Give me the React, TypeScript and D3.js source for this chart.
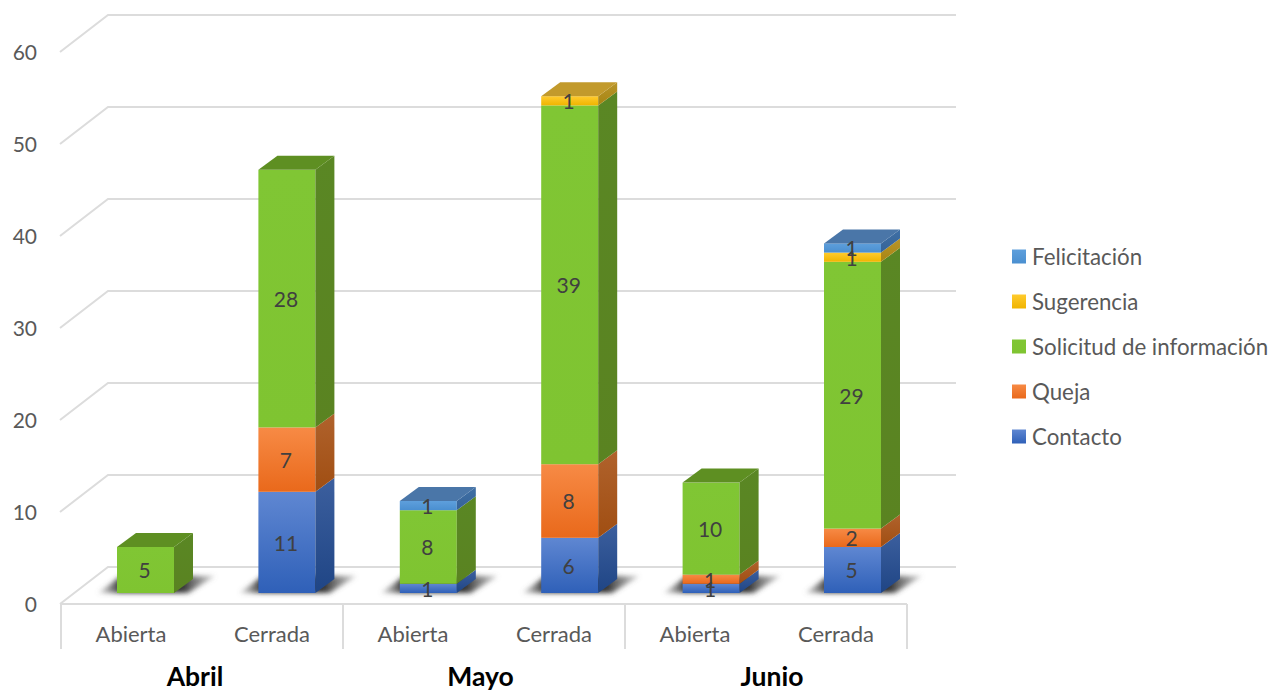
import React from "react";
import * as d3 from "d3";

const categories = ["Abierta", "Cerrada", "Abierta", "Cerrada", "Abierta", "Cerrada"];
const months = ["Abril", "Mayo", "Junio"];
const yTicks = [0, 10, 20, 30, 40, 50, 60];
const seriesNames = ["Contacto", "Queja", "Solicitud de información", "Sugerencia", "Felicitación"];
const contacto = [0, 11, 1, 6, 1, 5];
const queja = [0, 7, 0, 8, 1, 2];
const solicitud = [5, 28, 8, 39, 10, 29];
const sugerencia = [0, 0, 0, 1, 0, 1];
const felicitacion = [0, 0, 1, 0, 0, 1];
const seriesValues = [contacto, queja, solicitud, sugerencia, felicitacion];

const frontTop = ["#5f87d2", "#f78a45", "#80c634", "#ffcb2e", "#5e9fdc"];
const frontBottom = ["#2f60b8", "#e9691b", "#7fc431", "#f0b400", "#4a8fd0"];
const sideTop = ["#3c5f9e", "#b0622c", "#5a8724", "#b8952a", "#3f6fa5"];
const sideBottom = ["#1f4585", "#a04e12", "#5a8321", "#a88512", "#356398"];
const topFace = ["#3f66a8", "#b5642c", "#5e8f22", "#c29a2c", "#4a76a8"];

const W = 1273, H = 691;
const font = "Lato, 'Open Sans', sans-serif";
const wallDx = 48, wallDy = -37;
const barDx = 19, barDy = -14;
const barWidth = 57;
const monthShift = [-7, -3.5, 6];

const x = d3.scaleBand<number>().domain(d3.range(categories.length)).range([61, 907]);
const xBar = d3.scaleBand<number>().domain(d3.range(categories.length)).range([74.8, 923.2]);
const yFront = d3.scaleLinear().domain([0, 60]).range([604, 52]);
const yBar = d3.scaleLinear().domain([0, 60]).range([593, 41]);

const stacked = d3.stack<number>()
  .keys(d3.range(seriesValues.length) as any)
  .value((i: number, k: any) => seriesValues[k][i])(d3.range(categories.length));

const poly = (pts: number[][]) => pts.map((p) => p.join(",")).join(" ");

export default function App() {
  const step = x.step();
  const barLeft = (i: number) => xBar(i)! + xBar.step() / 2 - barWidth / 2;
  return (
    <svg width={W} height={H} viewBox={`0 0 ${W} ${H}`}
      style={{ position: "absolute", left: 0, top: 0, background: "#fff" }} fontFamily={font}>
      <defs>
        {seriesNames.map((_, i) => (
          <React.Fragment key={i}>
            <linearGradient id={`f${i}`} x1="0" y1="0" x2="0" y2="1">
              <stop offset="0" stopColor={frontTop[i]} />
              <stop offset="1" stopColor={frontBottom[i]} />
            </linearGradient>
            <linearGradient id={`s${i}`} x1="0" y1="0" x2="0" y2="1">
              <stop offset="0" stopColor={sideTop[i]} />
              <stop offset="1" stopColor={sideBottom[i]} />
            </linearGradient>
          </React.Fragment>
        ))}
        <linearGradient id="shadow" x1="0" y1="0" x2="1" y2="0">
          <stop offset="0" stopColor="#777" stopOpacity="0.25" />
          <stop offset="0.18" stopColor="#333" stopOpacity="0.95" />
          <stop offset="0.72" stopColor="#333" stopOpacity="1" />
          <stop offset="1" stopColor="#777" stopOpacity="0.35" />
        </linearGradient>
        <filter id="blur" x="-30%" y="-50%" width="160%" height="200%">
          <feGaussianBlur stdDeviation="2.4" />
        </filter>
      </defs>

      {/* walls */}
      {yTicks.map((t) => {
        const y0 = yFront(t);
        return (
          <polyline key={t} fill="none" stroke="#dcdcdc" strokeWidth={2}
            points={poly([[60, y0], [60 + wallDx, y0 + wallDy], [956, y0 + wallDy]])} />
        );
      })}
      <line x1={60} x2={907} y1={604} y2={604} stroke="#dcdcdc" strokeWidth={2} />
      {d3.range(months.length + 1).map((m) => {
        const xx = 61 + m * 2 * step;
        return <line key={m} x1={xx} x2={xx} y1={604} y2={649} stroke="#dcdcdc" strokeWidth={2} />;
      })}

      {/* y axis labels */}
      {yTicks.map((t) => (
        <text key={t} x={37} y={yFront(t) + 0.5} dy="0.35em" textAnchor="end" fontSize={21} fill="#595959">{t}</text>
      ))}

      {/* category labels */}
      {categories.map((c, i) => (
        <text key={i} x={x(i)! + step / 2 - 0.5} y={634} dy="0.35em" textAnchor="middle" fontSize={22} fill="#595959">{c}</text>
      ))}
      {months.map((m, i) => (
        <text key={m} x={61 + (i * 2 + 1) * step + monthShift[i]} y={677} dy="0.35em" textAnchor="middle"
          fontSize={26.5} fontWeight={700} fill="#000">{m}</text>
      ))}

      {/* shadows */}
      {categories.map((_, i) => {
        const bx = barLeft(i);
        const b = yBar(0);
        return (
          <polygon key={i} fill="url(#shadow)" filter="url(#blur)"
            points={poly([[bx - 19, b], [bx + barWidth + 14, b], [bx + barWidth + 41, b - 17], [bx + 4, b - 17]])} />
        );
      })}

      {/* bars */}
      {categories.map((_, i) => {
        const bx = barLeft(i);
        const segs = stacked.map((s, k) => ({ k, y0: s[i][0], y1: s[i][1] })).filter((d) => d.y1 > d.y0);
        const top = segs[segs.length - 1];
        const yt = yBar(top.y1);
        return (
          <g key={i}>
            {segs.map((d) => {
              const a = yBar(d.y0), b = yBar(d.y1);
              return (
                <g key={d.k}>
                  <rect x={bx} y={b} width={barWidth} height={a - b} fill={`url(#f${d.k})`} />
                  <polygon fill={`url(#s${d.k})`}
                    points={poly([[bx + barWidth, a], [bx + barWidth + barDx, a + barDy], [bx + barWidth + barDx, b + barDy], [bx + barWidth, b]])} />
                </g>
              );
            })}
            <polygon fill={topFace[top.k]}
              points={poly([[bx, yt], [bx + barDx, yt + barDy], [bx + barWidth + barDx, yt + barDy], [bx + barWidth, yt]])} />
          </g>
        );
      })}

      {/* value labels */}
      {categories.map((_, i) => {
        const cx = barLeft(i) + barWidth / 2 - 1;
        return stacked.map((s, k) => {
          const v = s[i][1] - s[i][0];
          if (!v) return null;
          return (
            <text key={`${i}-${k}`} x={cx} y={(yBar(s[i][0]) + yBar(s[i][1])) / 2 + 1} dy="0.35em"
              textAnchor="middle" fontSize={21} fill="#404040">{v}</text>
          );
        });
      })}

      {/* legend */}
      {[...seriesNames].reverse().map((n, j) => {
        const k = seriesNames.length - 1 - j;
        const ly = 256.5 + j * 45;
        return (
          <g key={n}>
            <rect x={1012} y={ly - 7} width={14} height={14} fill={`url(#f${k})`} />
            <text x={1032} y={ly + 0.5} dy="0.35em" fontSize={22.3} fill="#595959">{n}</text>
          </g>
        );
      })}
    </svg>
  );
}
